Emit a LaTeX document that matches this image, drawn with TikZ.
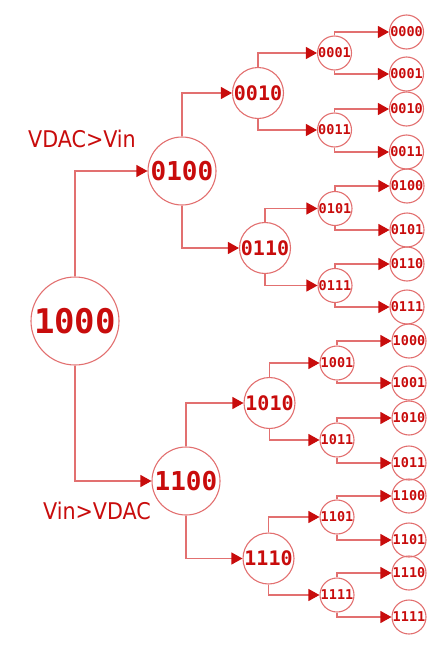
\documentclass[tikz,border=0pt]{standalone}
\usepackage{fontspec}
\setmonofont{DejaVu Sans Mono}
\newfontfamily\labfont{DejaVu Sans Condensed}
\usetikzlibrary{arrows.meta}
\definecolor{lnred}{RGB}{226,112,112}
\definecolor{txred}{RGB}{200,12,12}
\begin{document}
\begin{tikzpicture}[x=1pt,y=-1pt,
  bnode/.style={circle, draw=lnred, line width=1.1pt, inner sep=0pt, text=txred},
  n0/.style={bnode, minimum size=88pt, font=\ttfamily\bfseries\fontsize{34}{34}\selectfont},
  n1/.style={bnode, minimum size=68pt, font=\ttfamily\bfseries\fontsize{26}{26}\selectfont},
  n2/.style={bnode, minimum size=51pt, font=\ttfamily\bfseries\fontsize{20}{20}\selectfont},
  n3/.style={bnode, minimum size=34pt, font=\ttfamily\bfseries\fontsize{13.5}{13.5}\selectfont},
  lab/.style={text=txred, font=\labfont\fontsize{23}{23}\selectfont, inner sep=0pt},
  conn/.style={draw=lnred, line width=1.1pt, -{Triangle[length=11pt,width=12pt,color=txred]}}]
\useasboundingbox (0,0) rectangle (447,653);
% root
\node[n0] (r) at (75,321) {1000};
% level 1
\node[n1] (a) at (182,171) {0100};
\node[n1] (b) at (186,481) {1100};
% level 2
\node[n2] (a0) at (258,93) {0010};
\node[n2] (a1) at (265,248) {0110};
\node[n2] (b0) at (269.5,403) {1010};
\node[n2] (b1) at (268.5,558.5) {1110};
% level 3
\node[n3] (a00) at (334.5,53) {0001};
\node[n3] (a01) at (334.5,130) {0011};
\node[n3] (a10) at (335,208.5) {0101};
\node[n3] (a11) at (335,285.5) {0111};
\node[n3] (b00) at (337,363) {1001};
\node[n3] (b01) at (337,440) {1011};
\node[n3] (b10) at (337,517) {1101};
\node[n3] (b11) at (337,595) {1111};
% leaves
\node[n3] (l0) at (406.5,32) {0000};
\node[n3] (l1) at (406.5,74) {0001};
\node[n3] (l2) at (406.5,109) {0010};
\node[n3] (l3) at (406.5,152) {0011};
\node[n3] (l4) at (407,186) {0100};
\node[n3] (l5) at (407,230) {0101};
\node[n3] (l6) at (407,264) {0110};
\node[n3] (l7) at (407,307) {0111};
\node[n3] (l8) at (409,341) {1000};
\node[n3] (l9) at (409,383) {1001};
\node[n3] (l10) at (409,418) {1010};
\node[n3] (l11) at (409,463) {1011};
\node[n3] (l12) at (409,496) {1100};
\node[n3] (l13) at (409,540) {1101};
\node[n3] (l14) at (409,573) {1110};
\node[n3] (l15) at (409,617) {1111};
% labels
\node[lab] (la) at (82,138.5) {VDAC>Vin};
\node[lab] (lb) at (97,510.5) {Vin>VDAC};
% connectors
\draw[conn] (r.north) |- (a.west);
\draw[conn] (r.south) |- (b.west);
\draw[conn] (a.north) |- (a0.west);
\draw[conn] (a.south) |- (a1.west);
\draw[conn] (b.north) |- (b0.west);
\draw[conn] (b.south) |- (b1.west);
\draw[conn] (a0.north) |- (a00.west);
\draw[conn] (a0.south) |- (a01.west);
\draw[conn] (a1.north) |- (a10.west);
\draw[conn] (a1.south) |- (a11.west);
\draw[conn] (b0.north) |- (b00.west);
\draw[conn] (b0.south) |- (b01.west);
\draw[conn] (b1.north) |- (b10.west);
\draw[conn] (b1.south) |- (b11.west);
\draw[conn] (a00.north) |- (l0.west);
\draw[conn] (a00.south) |- (l1.west);
\draw[conn] (a01.north) |- (l2.west);
\draw[conn] (a01.south) |- (l3.west);
\draw[conn] (a10.north) |- (l4.west);
\draw[conn] (a10.south) |- (l5.west);
\draw[conn] (a11.north) |- (l6.west);
\draw[conn] (a11.south) |- (l7.west);
\draw[conn] (b00.north) |- (l8.west);
\draw[conn] (b00.south) |- (l9.west);
\draw[conn] (b01.north) |- (l10.west);
\draw[conn] (b01.south) |- (l11.west);
\draw[conn] (b10.north) |- (l12.west);
\draw[conn] (b10.south) |- (l13.west);
\draw[conn] (b11.north) |- (l14.west);
\draw[conn] (b11.south) |- (l15.west);
\end{tikzpicture}
\end{document}
